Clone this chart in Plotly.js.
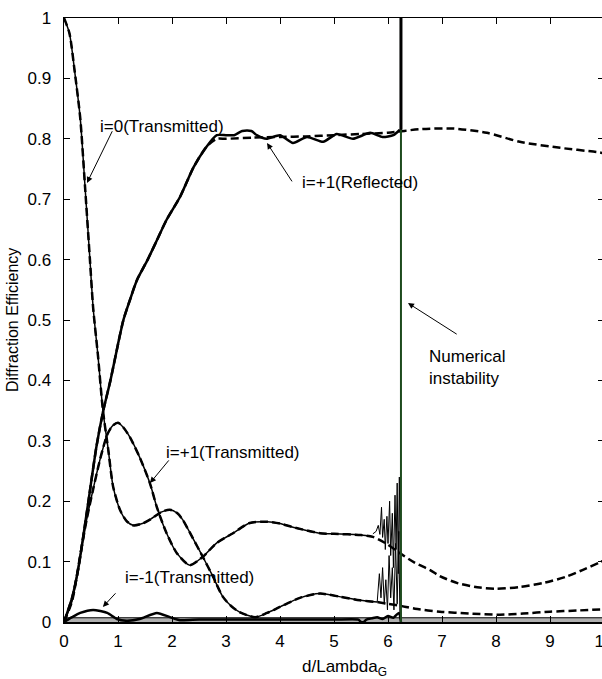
<!DOCTYPE html>
<html>
<head>
<meta charset="utf-8">
<script src="https://cdn.plot.ly/plotly-3.0.1.min.js"></script>
<style>
html,body{margin:0;padding:0;overflow:hidden;background:#fff;}
#chart{width:620px;height:679px;}
</style>
</head>
<body>
<div id="chart"></div>
<script>
// i=0 (Transmitted)
const t0X = [0,0.1,0.2,0.3,0.39,0.48,0.54,0.63,0.72,0.82,0.91,1.04,1.16,1.28,1.45,1.6,1.8,1.96,2.1,2.2,2.39,2.57,2.76,2.94,3.1,3.26,3.54,3.76,4.0,4.37,4.74,5.1,5.48,5.8,6.0,6.22,6.5,6.96,7.5,8.07,8.5,9.0,9.5,10];
const t0Y = [1,0.975,0.91,0.835,0.72,0.60,0.52,0.44,0.351,0.285,0.224,0.185,0.167,0.16,0.163,0.17,0.182,0.186,0.18,0.169,0.138,0.108,0.075,0.042,0.026,0.016,0.008,0.015,0.025,0.04,0.047,0.042,0.036,0.033,0.03,0.027,0.022,0.017,0.014,0.012,0.014,0.017,0.019,0.021];
// i=+1 (Transmitted)
const tp1X = [0,0.15,0.3,0.42,0.54,0.67,0.8,0.9,1.0,1.1,1.22,1.4,1.59,1.72,1.9,2.09,2.33,2.57,2.83,3.13,3.44,3.76,4.0,4.24,4.74,5.0,5.5,5.72,6.0,6.22,6.5,6.78,6.96,7.3,7.7,8.0,8.44,8.9,9.3,9.6,9.93,10];
const tp1Y = [0,0.035,0.11,0.17,0.22,0.27,0.31,0.325,0.33,0.322,0.306,0.273,0.23,0.19,0.147,0.114,0.094,0.108,0.131,0.147,0.164,0.166,0.163,0.157,0.147,0.146,0.144,0.141,0.128,0.114,0.098,0.086,0.076,0.064,0.057,0.055,0.058,0.065,0.075,0.086,0.099,0.102];
// i=+1 (Reflected) - numerical (solid)
const r1SolidX = [0,0.15,0.26,0.42,0.6,0.73,0.86,1.0,1.1,1.22,1.35,1.55,1.72,1.9,2.15,2.4,2.64,2.83,3.0,3.15,3.3,3.47,3.57,3.75,4.0,4.24,4.5,4.8,5.05,5.35,5.67,5.9,6.1,6.22];
const r1SolidY = [0,0.04,0.086,0.18,0.29,0.351,0.40,0.46,0.50,0.533,0.566,0.60,0.632,0.666,0.704,0.753,0.787,0.806,0.806,0.806,0.813,0.813,0.806,0.80,0.806,0.793,0.803,0.795,0.808,0.80,0.81,0.803,0.806,0.815];
// i=+1 (Reflected) - approximation (dashed)
const r1DashX = [0,0.15,0.26,0.42,0.6,0.73,0.86,1.0,1.1,1.22,1.35,1.55,1.72,1.9,2.15,2.4,2.64,2.83,3.0,3.5,4.0,4.5,5.0,5.5,6.0,6.6,7.2,7.83,8.44,9.19,9.87,10];
const r1DashY = [0,0.04,0.086,0.18,0.29,0.351,0.40,0.46,0.50,0.533,0.566,0.60,0.632,0.666,0.704,0.753,0.787,0.80,0.80,0.802,0.803,0.804,0.806,0.808,0.81,0.816,0.817,0.81,0.795,0.785,0.778,0.776];
// i=-1 (Transmitted)
const tm1X = [0,0.15,0.3,0.54,0.8,0.98,1.16,1.4,1.72,1.96,2.15,2.5,3.0,4.0,5.0,5.45,5.5,5.55,5.6,5.7,5.8,5.9,6.0,6.1,6.2,6.24];
const tm1Y = [0,0.008,0.015,0.02,0.015,0.005,0.002,0.005,0.015,0.008,0.003,0.004,0.004,0.004,0.004,0.004,0.0,0.0,0.004,0.006,0.008,0.005,0.01,0.007,0.015,0.0];
// higher orders near zero
const bandX = [0,10];
const bandY = [0.007,0.007];
// numerical instability: noisy parts of solid curves
const noiseUpX = [5.72,5.78,5.82,5.85,5.88,5.9,5.93,5.95,5.98,6.0,6.03,6.05,6.08,6.1,6.13,6.15,6.17,6.19,6.21,6.23,6.24];
const noiseUpY = [0.146,0.15,0.16,0.145,0.19,0.14,0.17,0.12,0.175,0.13,0.2,0.11,0.18,0.09,0.21,0.12,0.23,0.08,0.24,0.03,0.0];
const noiseLowX = [5.8,5.84,5.87,5.9,5.93,5.96,5.99,6.02,6.05,6.08,6.11,6.14,6.17,6.2,6.22,6.24];
const noiseLowY = [0.033,0.08,0.04,0.09,0.03,0.07,0.02,0.11,0.04,0.09,0.02,0.13,0.03,0.15,0.01,0.0];
const spikeX = [6.24,6.24];
const spikeY = [0,1];
const spikeTopY = [0.815,1];
const xTicks = [0,1,2,3,4,5,6,7,8,9,10];
const yTicks = [0,0.1,0.2,0.3,0.4,0.5,0.6,0.7,0.8,0.9,1];
const yTickText = ['0','0.1','0.2','0.3','0.4','0.5','0.6','0.7','0.8','0.9','1'];

const solidT0X = t0X.filter(v => v <= 5.8);
const solidT0Y = t0Y.slice(0, solidT0X.length);
const solidTp1X = tp1X.filter(v => v <= 5.72);
const solidTp1Y = tp1Y.slice(0, solidTp1X.length);

const DASH = '8px,4px';
function line(x, y, opts) {
  return Object.assign({x: x, y: y, type: 'scatter', mode: 'lines', hoverinfo: 'skip', showlegend: false}, opts);
}
const data = [
  line(bandX, bandY, {fill: 'tozeroy', fillcolor: '#b0b0b0', line: {color: '#000', width: 1}}),
  line(t0X, t0Y, {line: {color: '#000', width: 2.5, dash: DASH, shape: 'spline', smoothing: 0.7}}),
  line(solidT0X, solidT0Y, {line: {color: '#000', width: 1.5, shape: 'spline', smoothing: 0.7}}),
  line(tp1X, tp1Y, {line: {color: '#000', width: 2.5, dash: DASH, shape: 'spline', smoothing: 0.7}}),
  line(solidTp1X, solidTp1Y, {line: {color: '#000', width: 1.5, shape: 'spline', smoothing: 0.7}}),
  line(r1DashX, r1DashY, {line: {color: '#000', width: 2.5, dash: DASH, shape: 'spline', smoothing: 0.7}}),
  line(r1SolidX, r1SolidY, {line: {color: '#000', width: 2.5, shape: 'spline', smoothing: 0.6}}),
  line(tm1X, tm1Y, {line: {color: '#000', width: 2.5, shape: 'spline', smoothing: 0.6}}),
  line(noiseUpX, noiseUpY, {line: {color: '#000', width: 1}}),
  line(noiseLowX, noiseLowY, {line: {color: '#000', width: 1}}),
  line(spikeX, spikeY, {line: {color: '#1d4a1d', width: 2}}),
  line(spikeX, spikeTopY, {line: {color: '#000', width: 3}})
];

const FONT = 'Liberation Sans, Arial, sans-serif';
const TXT = 17;
function label(text, x, y, extra) {
  return Object.assign({text: text, x: x, y: y, xref: 'x', yref: 'y', showarrow: false,
    font: {family: FONT, size: TXT, color: '#000'}}, extra || {});
}
function arrow(tx, ty, hx, hy) {
  return {text: '', x: hx, y: hy, ax: tx, ay: ty, xref: 'x', yref: 'y', axref: 'x', ayref: 'y',
    showarrow: true, arrowhead: 2, arrowsize: 1.2, arrowwidth: 1, arrowcolor: '#000', standoff: 0, startstandoff: 0};
}
const annotations = [
  label('i=0(Transmitted)', 1.82, 0.82),
  arrow(0.907, 0.815, 0.426, 0.727),
  label('i=+1(Reflected)', 5.48, 0.728),
  arrow(4.24, 0.727, 3.76, 0.793),
  label('i=+1(Transmitted)', 3.13, 0.281),
  arrow(1.963, 0.27, 1.593, 0.23),
  label('i=-1(Transmitted)', 2.33, 0.0745),
  arrow(0.98, 0.05, 0.72, 0.025),
  label('Numerical<br>instability', 6.72, 0.422, {xanchor: 'left', align: 'left'}),
  arrow(7.30, 0.475, 6.37, 0.528),
  {text: 'd/Lambda<sub>G</sub>', xref: 'paper', yref: 'paper', x: 0.52, y: 0, yshift: -46,
    xanchor: 'center', yanchor: 'middle', showarrow: false, font: {family: FONT, size: TXT, color: '#000'}},
  {text: 'Diffraction Efficiency', xref: 'paper', yref: 'paper', x: 0, y: 0.5, xshift: -52,
    textangle: -90, xanchor: 'center', yanchor: 'middle', showarrow: false, font: {family: FONT, size: 16, color: '#000'}}
];

const axisCommon = {
  showline: true, linecolor: '#000', linewidth: 1.5, mirror: 'ticks',
  ticks: 'inside', ticklen: 6, tickwidth: 1, tickcolor: '#000',
  showgrid: false, zeroline: false, ticklabeloverflow: 'allow',
  tickfont: {family: FONT, size: 17, color: '#000'}
};
const layout = {
  width: 620, height: 679,
  margin: {l: 64, r: 16, t: 18, b: 57},
  paper_bgcolor: '#fff', plot_bgcolor: '#fff',
  xaxis: Object.assign({}, axisCommon, {range: [0, 10], tickvals: xTicks, ticklabelstandoff: 3}),
  yaxis: Object.assign({}, axisCommon, {range: [0, 1], tickvals: yTicks, ticktext: yTickText, ticklabelstandoff: 8}),
  annotations: annotations
};
Plotly.newPlot('chart', data, layout, {displayModeBar: false, staticPlot: true});
</script>
</body>
</html>
